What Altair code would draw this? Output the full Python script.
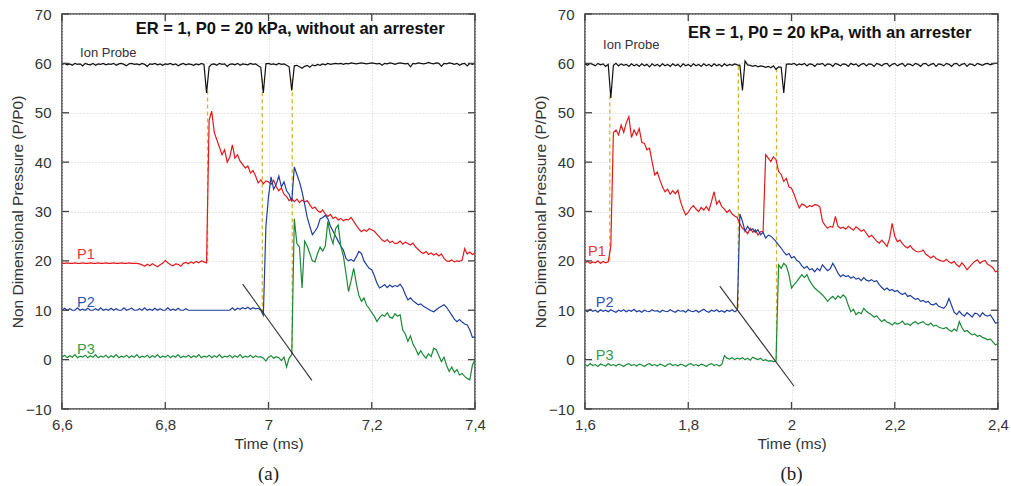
import altair as alt
import numpy as np
import pandas as pd

# ---------------- data ----------------
DT = 0.005          # sampling step of the traces (ms)
T0_A = 6.6          # first sample, panel (a)
T0_B = 1.6          # first sample, panel (b)

ion_a = [59.8, 60.0, 59.7, 59.9, 59.6, 60.0, 59.8, 59.9, 59.5, 60.0,
         59.8, 59.7, 60.0, 59.6, 59.9, 59.8, 60.0, 59.7, 59.9, 59.8,
         60.0, 59.6, 59.9, 60.0, 59.8, 59.5, 59.9, 60.0, 59.8, 59.9,
         59.7, 60.0, 59.8, 59.4, 59.9, 59.8, 60.0, 59.7, 59.9, 59.6,
         59.9, 59.8, 60.0, 59.7, 59.9, 59.5, 59.8, 60.0, 59.7, 59.9,
         59.8, 59.6, 59.9, 59.7, 60.0, 59.8, 54.0, 59.3, 59.8, 59.9,
         59.6, 60.0, 59.8, 59.9, 59.4, 59.8, 59.9, 59.7, 60.0, 59.6,
         59.9, 59.8, 59.7, 60.0, 59.8, 59.9, 59.5, 59.2, 54.0, 59.9,
         60.0, 59.8, 59.9, 59.7, 60.0, 59.8, 59.9, 59.6, 59.3, 54.5,
         59.5, 59.6, 59.3, 59.0, 59.4, 59.6, 59.2, 59.7, 59.5, 59.8,
         59.6, 59.9, 59.7, 60.0, 59.8, 59.9, 60.0, 59.9, 60.0, 59.8,
         60.0, 59.9, 60.1, 60.0, 59.9, 60.0, 60.1, 60.0, 59.9, 60.0,
         60.1, 60.0, 59.9, 60.0, 59.6, 60.0, 59.9, 60.1, 60.0, 59.8,
         60.0, 60.1, 60.0, 59.9, 60.0, 59.3, 60.0, 59.9, 60.1, 60.0,
         59.9, 60.0, 60.2, 60.0, 59.9, 60.1, 60.0, 59.4, 60.0, 59.9,
         60.1, 60.0, 59.8, 60.0, 59.6, 59.9, 60.0, 59.5, 60.0, 59.8,
         60.0]

p1_a = [19.5, 19.5, 19.6, 19.5, 19.5, 19.6, 19.5, 19.5, 19.6, 19.5,
        19.5, 19.6, 19.5, 19.5, 19.6, 19.5, 19.5, 19.6, 19.5, 19.5,
        19.6, 19.5, 19.5, 19.6, 19.5, 19.5, 19.6, 19.5, 19.5, 19.5,
        19.4, 19.2, 18.9, 19.3, 19.0, 19.4, 19.1, 18.8, 19.2, 19.5,
        20.1, 19.6, 19.2, 19.0, 19.4, 19.3, 18.9, 19.5, 19.7, 19.4,
        19.8, 19.5, 19.9, 19.6, 20.0, 19.8, 19.6, 48.5, 50.3, 46.0,
        44.5, 43.0, 41.5, 42.5, 40.0, 41.0, 43.5, 40.8, 41.5, 40.2,
        39.5, 38.8, 39.2, 37.8, 38.3, 37.2, 35.8, 36.4, 35.6, 36.2,
        36.0, 35.5, 36.3, 35.0, 34.2, 34.8, 33.5, 33.0, 32.2, 32.6,
        32.0, 32.5, 31.8, 32.3, 31.9, 32.2, 31.4, 30.6, 30.9, 30.2,
        29.8, 30.3, 29.5, 29.0, 29.4, 28.6, 28.9, 28.3, 28.6, 28.1,
        28.4, 28.3, 28.8, 28.0, 27.2, 26.5, 25.9, 26.3, 26.0, 26.5,
        26.3, 26.0, 25.4, 24.8, 24.2, 23.9, 24.3, 23.7, 24.0, 23.5,
        23.6, 24.0, 23.4, 23.8, 23.5, 23.2, 23.6, 22.8, 22.3, 21.8,
        21.5, 21.9, 21.3, 21.6, 21.2, 21.5, 21.0, 21.4, 20.5, 20.0,
        19.9, 20.2, 19.8, 20.0, 19.9, 20.1, 22.5, 21.4, 21.8, 21.3,
        21.6]

p2_a = [10.0, 10.4, 10.0, 10.3, 10.0, 10.0, 10.5, 10.0, 10.2, 10.0,
        10.4, 10.0, 10.0, 10.3, 10.0, 10.5, 10.0, 10.2, 10.0, 10.4,
        10.0, 10.3, 10.0, 10.0, 10.5, 10.0, 10.2, 10.4, 10.0, 10.0,
        10.3, 10.0, 10.5, 10.0, 10.2, 10.0, 10.4, 10.0, 10.3, 10.0,
        10.0, 10.5, 10.0, 10.2, 10.0, 10.4, 10.0, 10.0, 10.3, 10.0,
        10.0, 10.0, 10.0, 10.0, 10.0, 10.0, 10.0, 10.0, 10.0, 10.0,
        10.0, 10.0, 10.0, 10.0, 10.0, 10.0, 10.5, 10.0, 10.4, 10.2,
        10.5, 10.3, 10.6, 10.2, 10.5, 10.3, 10.4, 10.0, 9.0, 27.0,
        33.0, 37.0, 34.5, 35.5, 37.2, 35.0, 36.0, 34.2, 33.5, 32.0,
        39.0, 37.5, 36.0, 34.0, 31.5, 28.8, 27.0, 25.3, 26.0, 26.8,
        28.5, 28.8, 29.2, 28.5, 27.0, 26.0, 25.0, 24.0, 23.0, 22.2,
        20.5, 20.0, 20.3, 19.9, 20.8, 21.9, 21.5, 20.0, 19.2, 18.5,
        18.2, 17.0, 15.5, 14.5, 14.8, 15.2, 14.6, 15.1, 14.7, 15.0,
        14.8, 15.3, 14.5, 13.2, 12.1, 12.5, 11.9, 11.5, 11.1, 11.3,
        10.8, 10.5, 10.2, 9.9, 9.7, 10.1, 10.5, 10.8, 11.1, 10.6,
        9.8, 9.0, 8.2, 7.7, 8.1, 7.6, 7.2, 7.0, 6.0, 4.5,
        4.6]

p3_a = [0.5, 0.9, 0.4, 0.8, 0.5, 1.0, 0.4, 0.7, 0.5, 0.9,
        0.4, 0.8, 0.5, 1.0, 0.4, 0.7, 0.5, 0.9, 0.4, 0.8,
        0.5, 1.0, 0.4, 0.7, 0.5, 0.9, 0.4, 0.8, 0.5, 1.0,
        0.4, 0.7, 0.5, 0.9, 0.4, 0.8, 0.5, 1.0, 0.4, 0.7,
        0.5, 0.9, 0.4, 0.8, 0.5, 1.0, 0.4, 0.7, 0.5, 0.9,
        0.4, 0.8, 0.5, 1.0, 0.4, 0.7, 0.5, 0.9, 0.4, 0.8,
        0.5, 1.0, 0.4, 0.7, 0.5, 0.9, 0.4, 0.8, 0.5, 1.0,
        0.4, 0.7, 0.5, 0.9, 0.4, 0.8, 0.5, 0.6, 0.3, -0.3,
        0.5, 0.8, 0.3, 0.6, 0.4, -0.2, 0.5, -1.5, 0.3, 1.0,
        28.5, 23.5, 22.8, 14.5, 24.0, 23.0, 21.5, 20.0, 19.8, 21.5,
        22.8, 22.0, 23.0, 28.0, 25.0, 23.5, 26.5, 27.3, 23.0, 21.0,
        17.5, 13.8, 16.0, 18.5, 15.5, 13.0, 11.8, 12.5, 11.0, 10.4,
        9.5, 8.8, 7.7, 8.5, 9.1, 8.8, 9.5, 8.6, 8.4, 9.3,
        8.8, 9.1, 6.0, 5.2, 3.7, 4.8, 3.1, 2.2, 1.0, 1.8,
        0.9, 0.3, 1.2, 0.6, 2.3, 2.0, 0.8, -0.4, 0.5, -1.2,
        -2.4, -1.5, -2.6, -2.0, -3.1, -2.8, -3.4, -3.8, -4.1, -1.1,
        0.0]

ion_b = [59.9, 59.6, 60.0, 59.8, 59.5, 60.0, 59.7, 59.9, 59.4, 59.8,
         53.0, 59.6, 60.0, 59.5, 59.9, 59.6, 59.8, 59.4, 59.9, 59.5,
         59.8, 59.4, 59.9, 59.5, 59.8, 59.3, 59.9, 59.5, 59.8, 59.4,
         59.9, 59.5, 59.8, 59.4, 59.9, 59.5, 59.8, 59.3, 59.9, 59.5,
         59.8, 59.4, 59.9, 59.5, 59.8, 59.4, 59.9, 59.5, 59.8, 59.4,
         59.9, 59.5, 59.8, 59.4, 59.9, 59.5, 59.8, 59.6, 59.9, 59.7,
         59.6, 54.5, 60.5, 59.7, 59.6, 59.4, 59.6, 59.3, 59.5, 59.4,
         59.2, 59.4, 59.1, 59.5, 58.8, 59.3, 59.2, 54.0, 59.8, 59.9,
         59.8, 60.0, 59.6, 59.9, 59.7, 60.0, 59.5, 59.9, 59.8, 59.4,
         59.9, 59.8, 60.0, 59.5, 59.9, 59.8, 59.4, 60.0, 59.8, 59.5,
         59.9, 59.8, 59.4, 60.0, 59.7, 59.9, 59.4, 59.8, 60.0, 59.5,
         59.9, 59.8, 59.4, 60.0, 59.8, 59.5, 59.9, 60.0, 59.4, 59.8,
         60.0, 59.5, 59.8, 60.0, 59.4, 59.9, 59.8, 59.5, 60.0, 59.8,
         59.4, 59.9, 60.0, 59.5, 59.8, 60.0, 59.4, 59.9, 59.8, 59.5,
         60.0, 59.8, 59.4, 59.9, 60.0, 59.5, 59.8, 60.0, 59.4, 59.9,
         59.8, 59.5, 60.0, 59.8, 59.6, 59.9, 60.0, 59.7, 59.9, 60.0,
         60.0]

p1_b = [19.6, 19.9, 19.5, 19.8, 19.6, 20.0, 19.5, 19.9, 19.6, 19.8,
        23.0, 46.0, 46.5, 45.5, 47.5, 46.0, 48.0, 49.2, 45.0, 46.5,
        45.5, 46.8, 44.0, 43.8, 42.5, 42.8, 40.1, 37.4, 38.0, 36.4,
        35.0, 34.0, 34.5, 33.5, 34.2, 33.6, 34.3, 32.0, 30.5, 29.3,
        29.8, 30.7, 31.2, 30.5, 30.0, 30.8, 30.3, 31.0, 30.2, 32.0,
        34.0, 31.5, 32.2, 31.0, 30.5, 29.8, 30.3, 29.5, 29.1, 28.8,
        27.5, 26.6, 26.2, 25.5, 26.6, 25.8, 26.3, 25.2, 25.9, 26.0,
        41.5, 40.8, 40.1, 41.1, 40.5, 38.1, 37.5, 36.1, 36.7, 35.0,
        34.7, 33.5, 32.0, 30.7, 31.5, 31.3, 30.8, 31.2, 31.0, 31.4,
        31.3, 30.9, 28.0, 27.2, 26.6, 27.0, 26.8, 29.0, 27.0, 26.6,
        26.8, 26.4, 27.0, 26.6, 26.2, 26.9, 26.5, 26.0, 26.3, 25.6,
        24.8, 25.2, 24.6, 24.0, 23.6, 24.2, 23.6, 22.9, 24.5, 27.6,
        25.0, 23.9, 24.2, 23.5, 22.9, 22.6, 23.1, 22.4, 22.0, 21.8,
        21.9, 22.2, 21.4, 21.0, 20.6, 21.0, 20.5, 20.2, 20.0, 19.9,
        20.3, 19.8, 19.5, 19.9, 19.2, 18.8, 19.6, 19.0, 18.2, 18.8,
        19.4, 19.9, 20.2, 19.5, 19.9, 20.1, 19.3, 19.0, 18.6, 17.8,
        18.0]

p2_b = [10.0, 9.7, 10.2, 9.8, 10.0, 9.6, 10.1, 9.8, 10.0, 9.7,
        10.1, 9.8, 9.6, 10.0, 9.8, 10.1, 9.7, 10.0, 9.8, 10.2,
        9.7, 9.9, 9.6, 10.0, 9.8, 9.7, 10.1, 9.8, 9.9, 9.6,
        10.0, 9.8, 9.7, 10.1, 9.8, 9.6, 10.0, 9.8, 9.9, 9.6,
        10.1, 9.8, 9.7, 10.0, 9.6, 9.9, 10.2, 9.8, 9.6, 10.0,
        9.8, 10.1, 9.7, 9.9, 9.6, 10.0, 9.8, 10.1, 9.7, 10.0,
        29.5, 28.0, 26.0, 27.0, 26.2, 26.5, 25.8, 26.3, 25.3, 25.8,
        24.6, 25.2, 25.0, 24.5, 23.9, 23.2, 22.6, 21.8, 21.2, 21.5,
        20.6, 20.9, 20.1, 19.8, 19.0, 18.5, 18.9, 18.2, 18.4, 17.8,
        18.5, 18.0, 19.2, 18.6, 18.0, 18.4, 19.5, 18.6, 17.5, 16.8,
        17.2, 16.8, 17.0, 16.5, 16.8, 16.3, 16.5, 16.0, 16.6, 16.1,
        15.9, 16.2, 15.8, 16.0, 15.2, 14.6, 14.1, 14.5, 14.0, 14.2,
        13.8, 14.0, 13.5, 13.2, 13.5, 12.8, 13.0, 12.6, 12.2, 12.4,
        11.8, 12.0, 11.6, 11.8, 11.2, 11.1, 11.4, 10.8, 10.6, 10.4,
        11.0, 12.4, 11.0, 9.6, 9.1, 9.8, 9.2, 8.8, 9.5, 9.1,
        8.6, 9.4, 9.3, 8.7, 9.5, 9.0, 8.8, 9.1, 8.3, 7.4,
        7.5]

p3_b = [-1.0, -1.3, -0.8, -1.2, -1.0, -1.4, -0.9, -1.1, -1.3, -0.8,
        -1.2, -1.0, -1.3, -0.9, -1.1, -1.4, -1.0, -0.8, -1.2, -1.0,
        -1.3, -0.9, -1.1, -1.4, -1.0, -0.8, -1.2, -1.0, -1.3, -0.9,
        -1.1, -1.4, -1.0, -0.8, -1.2, -1.0, -1.3, -0.9, -1.1, -1.4,
        -1.0, -0.8, -1.2, -1.0, -1.3, -0.9, -1.1, -1.4, -1.0, -0.8,
        -1.2, -1.0, -1.3, -1.0, 0.8, 0.3, 0.1, 0.4, 0.0, 0.3,
        0.1, 0.4, 0.0, 0.3, -0.1, 0.5, 0.2, 0.0, 0.3, -0.2,
        0.0, -0.3, -0.2, -0.4, -0.3, 19.2, 18.5, 19.5, 19.0, 17.2,
        14.5, 15.2, 15.8, 16.5, 17.2, 16.6, 17.2, 16.0, 15.2, 14.5,
        14.0, 13.6, 13.1, 12.5, 11.8, 12.4, 12.8, 12.2, 12.9, 12.5,
        13.1, 12.6, 11.0, 9.7, 10.2, 9.1, 9.6, 9.3, 10.4, 9.8,
        9.4, 9.1, 8.6, 8.9, 8.2, 7.7, 8.1, 7.6, 7.4, 7.0,
        7.5, 7.2, 7.4, 7.8, 7.1, 7.3, 6.9, 7.4, 7.7, 7.2,
        7.5, 7.7, 7.2, 7.0, 7.4, 6.8, 7.0, 6.6, 6.4, 6.3,
        6.5, 6.0, 5.7, 6.2, 5.8, 7.7, 6.5, 5.7, 5.9, 5.4,
        5.0, 5.2, 4.7, 4.9, 4.5, 4.3, 4.0, 4.2, 3.6, 3.0,
        3.2]

# yellow dashed markers: time, top value, bottom value
dash_t_a = [6.882, 6.988, 7.046]
dash_top_a = [54.5, 57.0, 57.0]
dash_bot_a = [20.0, 9.5, 1.0]
dash_t_b = [1.648, 1.897, 1.971]
dash_top_b = [53.5, 59.5, 59.0]
dash_bot_b = [20.0, 10.0, 0.0]

# black diagonal line: start / end
diag_a = [(6.950, 15.3), (7.084, -4.2)]
diag_b = [(1.861, 14.9), (2.005, -5.4)]

# labels
title_a = "ER = 1, P0 = 20 kPa, without an arrester"
title_b = "ER = 1, P0 = 20 kPa, with an arrester"
title_pos_a = (7.042, 67.0)
title_pos_b = (2.074, 66.2)
lab_text = ["Ion Probe", "P1", "P2", "P3"]
lab_t_a = [6.635, 6.629, 6.629, 6.629]
lab_v_a = [62.1, 21.2, 11.5, 2.0]
lab_t_b = [1.635, 1.606, 1.621, 1.621]
lab_v_b = [63.7, 21.8, 11.5, 0.8]
lab_colors = ["#333333", "#e03a3a", "#3352b0", "#3a9a45"]

X_TICKS_A = [6.6, 6.8, 7.0, 7.2, 7.4]
X_TICKS_B = [1.6, 1.8, 2.0, 2.2, 2.4]
Y_TICKS = [-10, 0, 10, 20, 30, 40, 50, 60, 70]

TRACE_COLORS = ["#111111", "#e31a1c", "#1f3f9f", "#1b8a36"]

W, H = 413, 395
FONT = "Liberation Sans"


def panel(t0, traces, xticks, dash_t, dash_top, dash_bot, diag, title, title_pos,
          lab_t, lab_v, caption):
    dom = [xticks[0], xticks[-1]]
    x_axis = alt.Axis(values=xticks, title="Time (ms)", grid=True, labelFlush=False,
                      labelExpr="replace(format(datum.value, '.1~f'), '.', ',')")
    y_axis = alt.Axis(values=Y_TICKS, title="Non Dimensional Pressure (P/P0)", grid=True,
                      labelFlush=False)

    def X(f="t"):
        return alt.X(f"{f}:Q", scale=alt.Scale(domain=dom, nice=False, zero=False), axis=x_axis)

    def Y(f="v"):
        return alt.Y(f"{f}:Q", scale=alt.Scale(domain=[-10, 70], nice=False, zero=False), axis=y_axis)

    layers = []
    dash_df = pd.DataFrame({"t": dash_t, "v": dash_top, "v2": dash_bot})
    layers.append(alt.Chart(dash_df).mark_rule(color="#d8b236", strokeWidth=1.3,
                                               strokeDash=[4, 3]).encode(
        x=X(), y=Y(), y2="v2:Q"))

    for vals, col in zip(traces, TRACE_COLORS):
        t = np.round(t0 + DT * np.arange(len(vals)), 4)
        df = pd.DataFrame({"t": t, "v": vals})
        layers.append(alt.Chart(df).mark_line(color=col, strokeWidth=1.2, clip=True,
                                              interpolate="linear").encode(x=X(), y=Y()))

    diag_df = pd.DataFrame({"t": [diag[0][0]], "v": [diag[0][1]],
                            "t2": [diag[1][0]], "v2": [diag[1][1]]})
    layers.append(alt.Chart(diag_df).mark_rule(color="#333333", strokeWidth=1.1).encode(
        x=X(), y=Y(), x2="t2:Q", y2="v2:Q"))

    ttl_df = pd.DataFrame({"t": [title_pos[0]], "v": [title_pos[1]], "s": [title]})
    layers.append(alt.Chart(ttl_df).mark_text(font=FONT, fontSize=16.5, fontWeight="bold",
                                              color="#111111", align="center",
                                              baseline="middle").encode(
        x=X(), y=Y(), text="s:N"))

    for txt, tt, vv, col in zip(lab_text, lab_t, lab_v, lab_colors):
        ldf = pd.DataFrame({"t": [tt], "v": [vv], "s": [txt]})
        fs = 13 if txt == "Ion Probe" else 14.5
        layers.append(alt.Chart(ldf).mark_text(font=FONT, fontSize=fs, color=col,
                                               align="left", baseline="middle").encode(
            x=X(), y=Y(), text="s:N"))

    # inward tick marks on all four sides
    yt = pd.DataFrame({"v": Y_TICKS})
    xt = pd.DataFrame({"t": xticks})
    tick_col = "#444444"
    layers.append(alt.Chart(yt).mark_rule(color=tick_col, strokeWidth=1.3).encode(
        x=alt.value(0), x2=alt.value(7), y=Y()))
    layers.append(alt.Chart(yt).mark_rule(color=tick_col, strokeWidth=1.3).encode(
        x=alt.value(W - 7), x2=alt.value(W), y=Y()))
    layers.append(alt.Chart(xt).mark_rule(color=tick_col, strokeWidth=1.3).encode(
        x=X(), y=alt.value(H - 7), y2=alt.value(H)))
    layers.append(alt.Chart(xt).mark_rule(color=tick_col, strokeWidth=1.3).encode(
        x=X(), y=alt.value(0), y2=alt.value(7)))

    return alt.layer(*layers).properties(
        width=W, height=H,
        title=alt.TitleParams(caption, orient="bottom", frame="group", anchor="middle",
                              font="Liberation Serif", fontSize=19, fontWeight="normal",
                              color="#222222", offset=13))


left = panel(T0_A, [ion_a, p1_a, p2_a, p3_a], X_TICKS_A, dash_t_a, dash_top_a, dash_bot_a,
             diag_a, title_a, title_pos_a, lab_t_a, lab_v_a, "(a)")
right = panel(T0_B, [ion_b, p1_b, p2_b, p3_b], X_TICKS_B, dash_t_b, dash_top_b, dash_bot_b,
              diag_b, title_b, title_pos_b, lab_t_b, lab_v_b, "(b)")

chart = alt.hconcat(left, right, spacing=45).properties(
    padding={"left": 9, "top": 6, "right": 0, "bottom": 2},
    background="white",
).configure_view(
    stroke="#3c3c3c", strokeWidth=1.5
).configure_axis(
    labelFont=FONT, labelFontSize=15, labelColor="#333333",
    titleFont=FONT, titleFontSize=15.5, titleFontWeight="normal", titleColor="#333333",
    ticks=False, domain=False, gridColor="#cfcfcf", gridDash=[1, 2], gridWidth=1,
).configure_axisX(
    labelPadding=8, titlePadding=4
).configure_axisY(
    labelPadding=11, titlePadding=0
)

chart.save("out.html", embed_options={"renderer": "svg", "actions": False})
